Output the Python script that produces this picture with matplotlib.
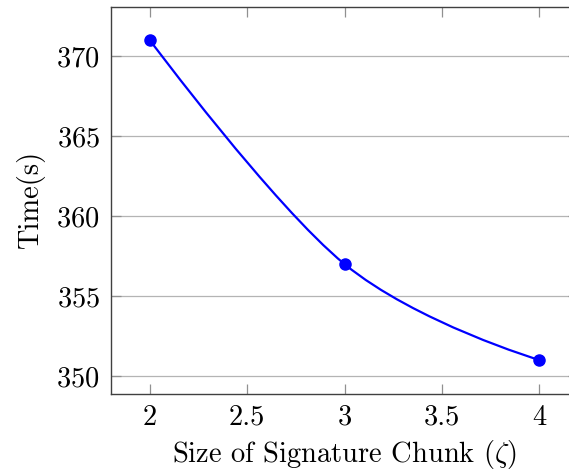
import numpy as np
import matplotlib
matplotlib.use('Agg')
from matplotlib import pyplot as plt
from matplotlib.path import Path
from matplotlib.patches import PathPatch

chunk_sizes = [2, 3, 4]
times = [371, 357, 351]
x_ticks = [2, 2.5, 3, 3.5, 4]
y_ticks = [350, 355, 360, 365, 370]

plt.rcParams['font.family'] = 'serif'
plt.rcParams['font.serif'] = ['cmr10']
plt.rcParams['mathtext.fontset'] = 'cm'
plt.rcParams['axes.formatter.use_mathtext'] = True


def smooth_path(xs, ys, tension=0.55):
    # pgfplots-like "smooth": cubic bezier, tangent along neighbours
    f = tension / 3.0
    pts = np.column_stack([xs, ys]).astype(float)
    verts = [pts[0]]
    codes = [Path.MOVETO]
    n = len(pts)
    for i in range(n - 1):
        p0, p1 = pts[i], pts[i + 1]
        c1 = p0 if i == 0 else p0 + f * (pts[i + 1] - pts[i - 1])
        c2 = p1 if i == n - 2 else p1 - f * (pts[i + 2] - pts[i])
        verts += [c1, c2, p1]
        codes += [Path.CURVE4] * 3
    return Path(verts, codes)


fig = plt.figure(figsize=(5.69, 4.74), dpi=100)
ax = fig.add_axes([0.1951, 0.1698, 0.8207, 0.816])

ax.add_patch(PathPatch(smooth_path(chunk_sizes, times), facecolor='none',
                       edgecolor='blue', lw=1.6, zorder=3))
ax.plot(chunk_sizes, times, 'o', color='blue', markersize=8, zorder=4)

ax.set_xlim(1.8, 4.2)
ax.set_ylim(348.9, 373.1)
ax.set_xticks(x_ticks)
ax.set_xticklabels(['2', '2.5', '3', '3.5', '4'])
ax.set_yticks(y_ticks)
ax.yaxis.grid(True, color='#b4b4b4', lw=0.9)
ax.set_axisbelow(True)

for s in ax.spines.values():
    s.set_color('#404040')
    s.set_linewidth(1.0)
ax.tick_params(direction='in', length=7, width=0.9, color='#909090',
               labelsize=20.5, top=True, right=True, pad=8)

ax.set_xlabel(r'Size of Signature Chunk ($\zeta$)', fontsize=20.5, labelpad=5)
ax.set_ylabel('Time(s)', fontsize=20.5, labelpad=8)

fig.savefig('out.png', dpi=100)
